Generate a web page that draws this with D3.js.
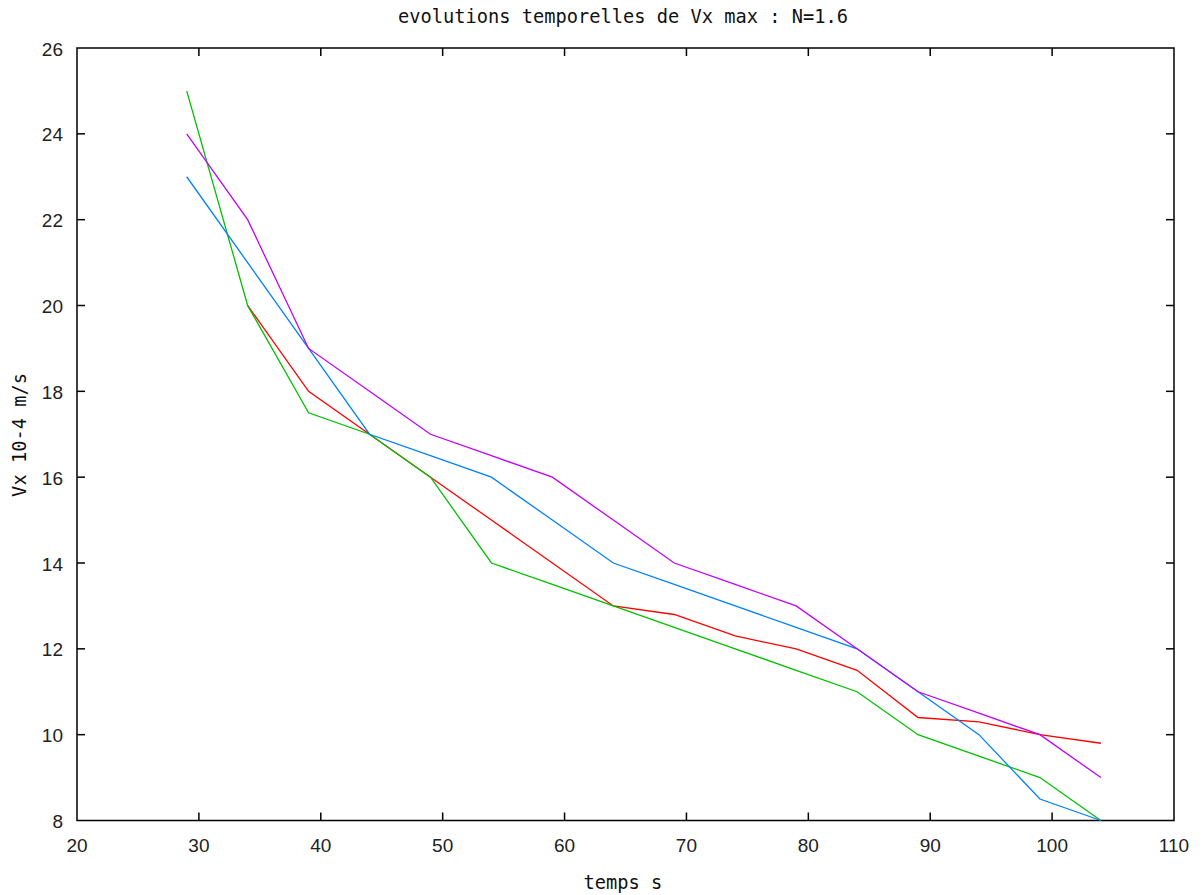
<!DOCTYPE html>
<html lang="fr">
<head>
<meta charset="UTF-8">
<title>evolutions temporelles de Vx max</title>
<script src="https://d3js.org/d3.v7.min.js"></script>
<style>
  body { margin: 0; background: #fff; }
  svg { display: block; }
  .tick-label { font-family: "Liberation Sans", Arial, sans-serif; font-size: 19px; fill: #222; }
  .mono { font-family: "DejaVu Sans Mono", monospace; font-size: 18.7px; fill: #111; }
</style>
</head>
<body>
<div id="chart"></div>
<script>
// donnees
const temps = [29, 34, 39, 44, 49, 54, 59, 64, 69, 74, 79, 84, 89, 94, 99, 104];
const serieRouge = [null, 20, 18, 17, 16, 15, 14, 13, 12.8, 12.3, 12, 11.5, 10.4, 10.3, 10, 9.8];
const serieVerte = [25, 20, 17.5, 17, 16, 14, 13.5, 13, 12.5, 12, 11.5, 11, 10, 9.5, 9, 8];
const serieBleue = [23, 21, 19, 17, 16.5, 16, 15, 14, 13.5, 13, 12.5, 12, 11, 10, 8.5, 8];
const serieViolette = [24, 22, 19, 18, 17, 16.5, 16, 15, 14, 13.5, 13, 12, 11, 10.5, 10, 9];
const xTicks = [20, 30, 40, 50, 60, 70, 80, 90, 100, 110];
const yTicks = [8, 10, 12, 14, 16, 18, 20, 22, 24, 26];

const width = 1202, height = 895;
const margin = { left: 77, right: 28, top: 48, bottom: 75 };

const svg = d3.select("#chart").append("svg")
  .attr("width", width)
  .attr("height", height);

const x = d3.scaleLinear().domain([20, 110]).range([margin.left, width - margin.right]);
const y = d3.scaleLinear().domain([8, 26]).range([height - margin.bottom + 0.5, margin.top]);

// cadre
svg.append("rect")
  .attr("x", x(20)).attr("y", y(26))
  .attr("width", x(110) - x(20)).attr("height", y(8) - y(26))
  .attr("fill", "none").attr("stroke", "#000").attr("stroke-width", 1.5);

// graduations vers l'interieur (4 cotes)
const tickLen = 8;
const g = svg.append("g").attr("stroke", "#000").attr("stroke-width", 1.5);
xTicks.slice(1, -1).forEach(t => {
  g.append("line").attr("x1", x(t)).attr("x2", x(t)).attr("y1", y(8)).attr("y2", y(8) - tickLen);
  g.append("line").attr("x1", x(t)).attr("x2", x(t)).attr("y1", y(26)).attr("y2", y(26) + tickLen);
});
yTicks.slice(1, -1).forEach(t => {
  g.append("line").attr("x1", x(20)).attr("x2", x(20) + tickLen).attr("y1", y(t)).attr("y2", y(t));
  g.append("line").attr("x1", x(110)).attr("x2", x(110) - tickLen).attr("y1", y(t)).attr("y2", y(t));
});

svg.selectAll(".xl").data(xTicks).enter().append("text")
  .attr("class", "tick-label")
  .attr("x", d => x(d)).attr("y", y(8) + 31.5)
  .attr("text-anchor", "middle")
  .text(d => d);

svg.selectAll(".yl").data(yTicks).enter().append("text")
  .attr("class", "tick-label")
  .attr("x", x(20) - 14).attr("y", d => y(d) + 7.5)
  .attr("text-anchor", "end")
  .text(d => d);

// courbes
const line = d3.line()
  .defined(d => d[1] !== null)
  .x(d => x(d[0])).y(d => y(d[1]));

const series = [
  { values: serieRouge, color: "#ff0000" },
  { values: serieVerte, color: "#00c000" },
  { values: serieBleue, color: "#0080ff" },
  { values: serieViolette, color: "#c000ff" }
];

series.forEach(s => {
  svg.append("path")
    .datum(temps.map((t, i) => [t, s.values[i]]))
    .attr("fill", "none")
    .attr("stroke", s.color)
    .attr("stroke-width", 1.3)
    .attr("d", line);
});

// textes
svg.append("text").attr("class", "mono")
  .attr("x", 623).attr("y", 23)
  .attr("text-anchor", "middle")
  .text("evolutions temporelles de Vx max : N=1.6");

svg.append("text").attr("class", "mono")
  .attr("transform", "translate(26," + 435 + ") rotate(-90)")
  .attr("text-anchor", "middle")
  .text("Vx 10-4 m/s");

svg.append("text").attr("class", "mono")
  .attr("x", 623).attr("y", 889)
  .attr("text-anchor", "middle")
  .text("temps s");
</script>
</body>
</html>
